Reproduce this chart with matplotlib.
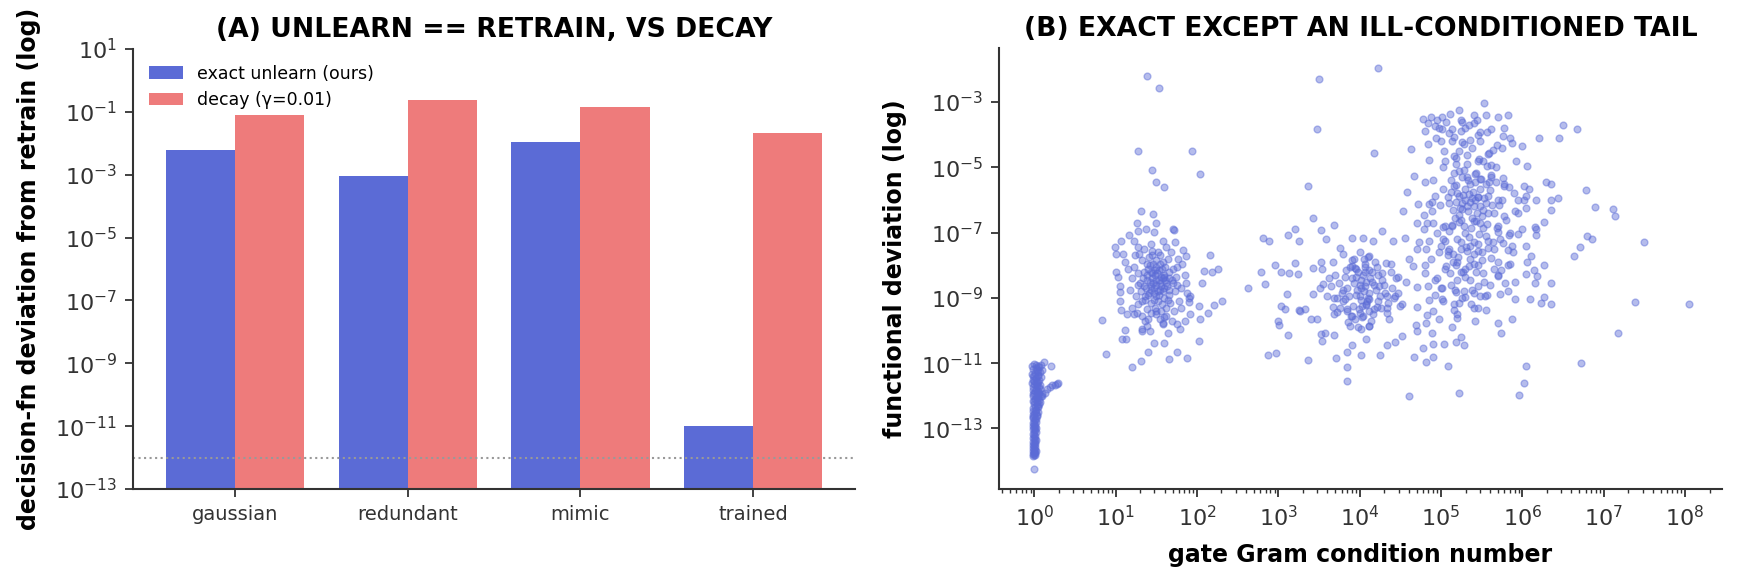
import numpy as np
import matplotlib
matplotlib.use("Agg")
import matplotlib.pyplot as plt

# panel A: bar values
categories = ["gaussian", "redundant", "mimic", "trained"]
exact_dev = [6.1e-3, 9.1e-4, 1.1e-2, 1.0e-11]
decay_dev = [7.9e-2, 2.4e-1, 1.4e-1, 2.1e-2]
precision_floor = 1e-12

# panel B: (log10 condition number, log10 functional deviation)
column_pts = [
    (0.00, -11.02), (0.02, -11.05), (0.04, -11.10), (-0.01, -11.18), (0.03, -11.22), (0.01, -11.30),
    (0.05, -11.35), (-0.02, -11.38), (0.02, -11.45), (0.06, -11.50), (0.00, -11.55), (0.03, -11.62),
    (0.07, -11.68), (-0.01, -11.72), (0.02, -11.78), (0.05, -11.85), (0.00, -11.90), (0.04, -11.95),
    (0.08, -12.00), (-0.02, -12.02), (0.01, -12.10), (0.06, -12.12), (0.03, -12.20), (0.00, -12.26),
    (0.05, -12.30), (-0.01, -12.38), (0.02, -12.42), (0.04, -12.50), (0.00, -12.55), (0.03, -12.62),
    (-0.02, -12.68), (0.01, -12.72), (0.02, -12.80), (0.00, -12.85), (-0.01, -12.92), (0.02, -12.98),
    (0.01, -13.05), (0.00, -13.10), (-0.02, -13.18), (0.01, -13.22), (0.00, -13.30), (0.02, -13.35),
    (-0.01, -13.42), (0.01, -13.48), (0.00, -13.55), (-0.02, -13.60), (0.01, -13.66), (0.00, -13.72),
    (-0.01, -13.78), (0.01, -13.82), (-0.02, -13.85), (0.00, -14.24), (0.00, -11.65), (0.01, -11.85),
    (0.00, -12.15), (0.01, -12.45), (-0.01, -12.60), (0.00, -13.00), (0.01, -13.40), (0.00, -13.75),
    (0.04, -12.35), (0.07, -12.18), (0.10, -12.02), (0.13, -11.90), (0.16, -11.80), (0.19, -11.73),
    (0.22, -11.68), (0.25, -11.66), (0.28, -11.65), (0.29, -11.62), (0.12, -10.97), (0.21, -11.10),
    (0.06, -12.25), (0.09, -11.95),
    (0.08, -11.05), (0.06, -11.12), (-0.03, -11.08), (0.09, -11.20), (0.07, -11.28), (-0.03, -11.32),
    (0.04, -11.40), (0.08, -11.42), (-0.02, -11.50), (0.05, -11.58), (0.02, -11.62), (-0.03, -11.62),
    (0.06, -11.72), (0.03, -11.70), (-0.02, -11.82), (0.03, -11.88), (0.06, -11.92), (-0.02, -11.95),
    (0.02, -12.05), (0.04, -12.08), (-0.02, -12.15), (0.03, -12.28), (0.01, -12.33), (-0.02, -12.45),
    (0.02, -12.52), (0.03, -12.58), (-0.01, -12.65), (0.02, -12.70), (0.00, -12.78), (-0.02, -12.82),
    (0.01, -12.90), (0.01, -12.95), (-0.02, -13.02), (0.02, -13.12), (0.00, -13.20), (-0.01, -13.28),
    (0.01, -13.33), (0.00, -13.45), (-0.02, -13.50), (0.01, -13.58), (0.00, -13.62), (-0.01, -13.70),
    (0.01, -13.76), (0.00, -13.80), (0.02, -13.70), (0.02, -11.15), (0.05, -11.25), (0.00, -11.40),
    (0.07, -11.80), (0.05, -12.02),
]

low_cluster_pts = [
    (1.39, -2.20), (1.53, -2.57), (1.28, -4.50), (1.94, -4.50), (1.45, -5.08), (1.50, -5.46),
    (1.60, -5.60), (2.04, -5.20),
    (1.31, -6.35), (1.46, -6.43), (1.26, -6.71), (1.49, -6.71), (1.28, -6.94), (1.37, -6.89),
    (1.47, -6.99), (1.71, -6.89), (1.72, -6.92), (1.17, -7.07), (1.07, -7.27), (1.23, -7.27),
    (0.99, -7.45), (1.09, -7.66), (1.01, -7.66), (1.28, -7.45), (1.58, -7.25), (1.73, -7.30),
    (1.83, -7.52), (1.86, -7.71), (2.16, -7.69), (2.08, -8.17), (2.19, -8.22), (2.26, -8.11),
    (2.06, -8.54), (2.31, -9.09), (2.21, -9.22), (2.14, -9.46), (2.02, -9.25), (2.04, -9.65),
    (1.92, -9.49), (1.85, -9.72), (1.75, -9.80), (1.79, -9.95), (2.03, -10.33), (1.88, -10.84),
    (1.76, -10.65), (1.65, -10.87), (1.40, -10.65), (1.31, -10.93), (1.20, -11.13), (1.59, -10.39),
    (1.47, -10.39), (1.64, -10.08), (1.13, -10.26), (1.08, -10.26), (1.11, -9.98), (0.88, -10.72),
    (0.83, -9.68), (1.05, -9.09), (1.05, -8.83), (1.01, -8.22), (1.03, -8.37), (1.05, -8.63),
    (1.07, -9.37), (1.14, -9.49), (1.23, -9.49), (1.32, -9.95), (1.32, -10.00), (1.42, -10.00),
    (1.36, -9.70), (1.58, -9.77), (1.62, -9.56), (1.92, -8.93), (1.90, -9.13),
    (1.50, -8.60), (1.45, -8.40), (1.55, -8.75), (1.40, -8.90), (1.60, -8.30), (1.35, -8.20),
    (1.65, -8.90), (1.52, -9.10), (1.42, -8.00), (1.58, -7.90), (1.30, -8.55), (1.70, -8.55),
    (1.48, -8.15), (1.62, -9.30), (1.38, -9.35), (1.55, -7.70), (1.33, -7.85), (1.75, -8.05),
    (1.68, -7.60), (1.45, -7.55), (1.25, -8.95), (1.28, -9.20), (1.80, -8.70), (1.78, -9.10),
    (1.50, -9.50), (1.60, -9.60), (1.40, -9.65), (1.20, -8.40), (1.22, -8.05), (1.85, -8.30),
    (1.47, -8.85), (1.53, -8.45), (1.43, -8.65), (1.57, -8.10), (1.37, -8.70), (1.63, -8.65),
    (1.51, -8.25), (1.49, -8.95), (1.44, -9.15), (1.59, -9.00), (1.34, -8.40), (1.66, -8.20),
    (1.41, -7.75), (1.56, -9.40), (1.29, -7.65), (1.72, -9.40), (1.18, -8.75), (1.82, -7.95),
    (1.46, -7.95), (1.64, -7.80), (1.39, -8.30), (1.61, -8.45), (1.54, -8.55), (1.36, -9.05),
    (1.67, -9.15), (1.27, -8.25), (1.74, -8.35), (1.48, -9.30), (1.58, -8.80), (1.42, -8.50),
    (1.24, -7.70), (1.88, -8.85), (1.15, -8.10), (1.90, -9.00), (1.32, -9.55), (1.69, -9.70),
    (1.52, -7.60), (1.44, -7.35), (1.62, -7.45), (1.35, -7.50), (1.12, -7.90), (1.20, -9.30),
    (1.77, -7.80), (1.86, -8.55), (1.50, -8.05), (1.56, -8.35), (1.40, -8.10), (1.47, -8.70),
    (1.53, -8.90), (1.43, -9.45), (1.65, -8.40), (1.31, -8.80), (1.73, -8.80), (1.26, -9.45),
    (1.58, -9.80), (1.38, -9.85), (1.80, -9.30), (1.49, -7.85), (1.60, -8.70), (1.45, -8.25),
    (1.50, -8.45), (1.44, -8.75), (1.56, -8.65), (1.38, -8.45), (1.62, -8.55), (1.47, -9.05),
    (1.53, -8.15), (1.41, -8.85), (1.59, -8.35), (1.35, -8.65), (1.66, -8.75), (1.52, -8.80),
    (1.46, -8.55), (1.57, -9.20), (1.43, -8.20), (1.61, -8.05), (1.33, -9.10), (1.69, -8.45),
    (1.49, -9.40), (1.55, -7.95), (1.39, -7.95), (1.64, -9.05), (1.27, -8.60), (1.76, -8.60),
    (1.54, -9.65), (1.36, -8.95), (1.70, -8.10), (1.45, -7.70), (1.58, -8.40), (1.48, -8.30),
]

mid_cluster_pts = [
    (4.22, -1.96), (3.50, -2.30), (3.48, -3.83), (4.17, -4.56), (3.37, -5.57), (3.43, -6.55),
    (3.68, -6.77), (3.20, -6.89),
    (2.63, -8.71), (2.81, -7.17), (2.89, -7.25), (3.12, -7.07), (3.26, -7.25), (3.52, -6.93),
    (3.59, -7.20), (3.90, -7.18), (4.04, -7.17), (4.16, -7.25), (4.27, -6.96), (4.41, -7.25),
    (4.56, -7.17), (4.71, -7.50), (4.73, -7.30), (2.79, -8.22), (2.84, -8.57), (2.96, -7.99),
    (3.03, -8.22), (3.13, -8.23), (3.21, -7.94), (3.24, -8.27), (3.11, -8.89), (3.03, -9.26),
    (3.08, -9.34), (3.00, -9.70), (3.01, -9.83), (3.12, -10.14), (2.87, -10.75), (2.97, -10.70),
    (3.36, -10.90), (3.27, -9.41), (3.33, -9.34), (3.40, -9.65), (3.47, -9.65), (3.52, -10.11),
    (3.54, -10.31), (3.57, -10.08), (3.68, -10.14), (3.71, -10.85), (3.85, -10.67), (3.85, -11.13),
    (3.85, -11.54), (3.90, -10.43), (4.01, -10.75), (4.08, -10.26), (4.25, -10.75), (4.33, -10.44),
    (4.44, -10.34), (4.52, -10.18), (4.60, -12.00), (4.67, -10.82), (4.78, -10.53), (4.81, -10.97),
    (4.90, -10.82), (4.90, -10.41), (5.04, -10.41), (5.09, -11.08), (5.19, -10.34), (5.14, -9.90),
    (4.82, -9.78), (4.69, -9.83), (4.71, -10.01), (4.97, -9.65), (4.89, -10.09), (5.16, -9.36),
    (5.20, -9.62), (3.26, -9.36), (3.43, -8.88), (3.51, -8.71), (3.55, -8.57), (3.54, -8.11),
    (3.42, -8.09), (3.52, -7.89), (3.67, -7.89), (3.68, -9.00), (3.67, -9.29), (3.72, -9.44),
    (3.90, -8.01), (3.94, -8.09), (4.06, -8.20), (3.76, -7.48), (3.79, -7.66), (3.93, -7.81),
    (4.00, -7.58), (4.12, -7.71), (4.27, -8.25), (4.32, -7.94), (4.39, -7.96), (4.47, -8.37),
    (4.57, -8.52), (4.61, -7.81), (4.65, -8.01), (4.71, -8.68), (4.80, -8.25), (4.84, -8.63),
    (4.92, -8.45), (5.01, -8.71), (5.06, -8.01), (5.09, -7.55), (5.02, -7.20), (5.17, -8.75),
    (5.01, -9.02), (4.85, -9.07), (4.83, -9.52), (4.33, -9.31), (4.21, -9.29), (4.12, -9.02),
    (4.08, -9.23), (4.04, -9.54), (4.02, -9.95), (4.12, -9.85), (3.90, -9.54), (3.88, -9.85),
    (3.84, -9.34), (3.80, -8.76), (3.82, -9.02), (4.34, -8.95), (4.44, -8.93), (4.52, -9.19),
    (4.71, -9.29),
    (4.05, -8.80), (4.00, -8.60), (4.10, -9.00), (3.95, -8.90), (4.15, -8.50), (3.90, -8.40),
    (4.20, -8.75), (4.08, -9.20), (3.98, -8.20), (4.12, -8.15), (3.85, -8.70), (4.25, -8.95),
    (4.02, -8.45), (4.18, -9.35), (3.92, -9.25), (4.06, -7.95), (3.88, -8.05), (4.30, -8.60),
    (4.22, -8.30), (4.00, -9.45), (3.80, -9.10), (3.82, -8.35), (4.35, -9.15), (4.40, -8.70),
    (4.03, -9.60), (4.14, -9.70), (3.94, -9.65), (3.75, -8.55), (3.78, -8.85), (4.45, -8.40),
    (4.07, -8.65), (3.97, -8.75), (4.11, -8.85), (4.01, -9.05), (3.93, -8.55), (4.17, -8.60),
    (4.04, -8.30), (4.09, -9.10), (3.99, -9.35), (4.13, -8.40), (3.87, -8.95), (4.23, -9.10),
    (3.96, -8.10), (4.16, -9.50), (3.84, -9.40), (4.27, -8.45), (3.72, -9.00), (4.38, -8.20),
    (4.06, -8.05), (4.19, -7.90), (3.91, -7.85), (4.10, -7.75), (4.26, -9.30), (3.86, -9.75),
    (4.33, -9.45), (3.70, -8.30), (4.42, -9.00), (4.00, -8.95), (4.08, -8.50), (3.95, -8.35),
    (4.21, -8.05), (3.89, -9.55), (4.31, -8.85), (4.03, -9.25), (3.76, -9.30), (4.47, -8.85),
    (3.65, -8.65), (4.12, -9.85), (3.98, -9.90), (4.36, -9.65), (3.60, -8.95), (3.62, -8.40),
    (4.50, -9.25), (3.68, -9.50), (4.05, -7.80), (4.15, -8.20), (4.24, -8.65), (3.83, -8.15),
    (4.02, -8.70), (4.11, -9.40),
]

high_cluster_pts = [
    (4.78, -3.52), (5.01, -3.47), (5.11, -3.37), (5.22, -3.25), (5.26, -3.62), (4.80, -3.88),
    (4.93, -3.73), (5.01, -3.83), (5.14, -3.83), (5.16, -4.08), (4.84, -4.29), (4.63, -4.44),
    (4.85, -4.78), (5.05, -4.80), (5.18, -4.90), (5.16, -4.64), (4.67, -5.26), (5.16, -5.16),
    (5.26, -5.31), (4.80, -5.44), (4.90, -5.40), (5.02, -5.67), (5.16, -5.56), (4.58, -5.77),
    (4.72, -6.12), (4.85, -6.11), (4.93, -5.87), (5.10, -6.08), (5.22, -5.87), (5.26, -6.28),
    (4.53, -6.35), (4.89, -6.35), (4.71, -6.72), (4.83, -6.72), (5.02, -6.83), (5.14, -6.78),
    (4.79, -6.89),
    (5.53, -3.04), (5.41, -3.40), (5.55, -3.39), (5.70, -3.47), (5.82, -3.40), (5.40, -3.64),
    (5.30, -3.81), (5.48, -3.93), (5.56, -3.92), (5.61, -3.83), (5.77, -3.80), (5.76, -4.03),
    (5.85, -4.11), (5.87, -4.26), (5.69, -4.31), (5.99, -4.36), (6.20, -4.11), (6.45, -4.11),
    (6.50, -3.71), (6.67, -3.83), (6.06, -4.97), (5.26, -4.23), (5.64, -4.46), (5.59, -4.57),
    (5.32, -4.61), (5.47, -4.75), (5.46, -4.82), (5.56, -4.97), (5.61, -4.92), (5.62, -5.23),
    (5.28, -5.08), (5.43, -5.17), (5.76, -5.33), (5.67, -5.46), (5.33, -5.39), (5.48, -5.35),
    (5.55, -5.51), (5.78, -5.56), (5.84, -5.61), (6.02, -5.58), (6.08, -5.67), (6.29, -5.44),
    (6.35, -5.51), (6.78, -5.70), (5.34, -5.82), (5.46, -5.92), (5.58, -5.87), (5.70, -5.99),
    (5.71, -6.14), (5.95, -5.99), (6.02, -6.01), (6.05, -5.87), (6.17, -5.99), (6.35, -6.01),
    (6.44, -5.94), (6.05, -6.25), (5.91, -6.34), (5.78, -6.48), (5.58, -6.41), (6.35, -6.31),
    (6.89, -6.21), (7.12, -6.29), (7.14, -6.48), (6.27, -6.68), (5.40, -6.63), (5.22, -6.68),
    (5.48, -6.72), (5.69, -6.85), (6.16, -6.83),
    (6.17, -6.89), (6.17, -7.07), (6.79, -7.09), (6.85, -7.20), (6.71, -7.45), (6.64, -7.73),
    (7.49, -7.30), (6.04, -7.42), (6.10, -7.73), (6.06, -7.91), (6.26, -7.99), (6.14, -8.15),
    (6.04, -8.27), (6.18, -8.34), (6.16, -8.55), (6.35, -8.55), (5.91, -8.52), (5.79, -8.55),
    (6.27, -8.98), (6.23, -9.17), (6.35, -9.18), (6.09, -9.02), (5.91, -9.02), (5.82, -8.79),
    (5.72, -8.89), (5.87, -9.65), (5.70, -9.78), (5.74, -10.09), (5.22, -11.90), (5.28, -10.44),
    (5.25, -10.21), (5.42, -9.71), (5.55, -9.36), (5.46, -9.32), (5.37, -9.19), (5.22, -9.16),
    (5.48, -8.95), (5.54, -8.93), (5.30, -8.97), (5.32, -7.55), (5.58, -7.47), (5.76, -7.32),
    (5.82, -7.52), (5.87, -7.40), (5.94, -7.04), (5.83, -7.08), (5.70, -6.99), (5.64, -7.30),
    (5.61, -7.79), (5.70, -7.91), (5.85, -7.96), (5.65, -8.11), (5.74, -8.16), (5.70, -8.34),
    (5.53, -8.52), (5.38, -8.76), (5.40, -8.84), (5.20, -7.91), (5.34, -8.01), (5.27, -8.22),
    (5.43, -8.22), (5.18, -8.83),
    (5.30, -6.00), (5.40, -6.20), (5.20, -5.80), (5.50, -6.50), (5.35, -5.50), (5.25, -6.60),
    (5.45, -5.90), (5.55, -6.10), (5.15, -6.30), (5.60, -5.70), (5.30, -7.00), (5.40, -7.30),
    (5.20, -7.20), (5.50, -7.60), (5.35, -7.80), (5.10, -7.50), (5.45, -8.00), (5.25, -8.20),
    (5.15, -7.90), (5.55, -7.10), (5.05, -6.80), (4.95, -7.00), (5.00, -7.40), (4.90, -6.70),
    (5.10, -6.95), (4.85, -7.25), (5.05, -8.10), (4.95, -8.40), (5.12, -8.60), (5.28, -8.80),
    (5.65, -6.40), (5.70, -6.80), (5.75, -6.00), (5.80, -6.60), (5.65, -7.50), (5.72, -7.20),
    (5.85, -7.00), (5.62, -5.30), (5.68, -5.00), (5.52, -4.80), (5.42, -5.20), (5.32, -4.90),
    (5.22, -5.10), (5.12, -5.40), (5.02, -5.00), (5.38, -4.40), (5.48, -4.20), (5.58, -4.60),
    (5.28, -4.30), (5.18, -4.70), (5.33, -6.35), (5.43, -6.65), (5.23, -6.25), (5.53, -5.95),
    (5.37, -6.85), (5.27, -5.85), (5.47, -7.05), (5.57, -6.75), (5.17, -6.55), (5.63, -6.15),
    (5.31, -7.45), (5.41, -7.65), (5.21, -7.75), (5.51, -8.25), (5.36, -8.45), (5.11, -8.25),
    (5.46, -8.65), (5.26, -9.00), (5.16, -9.20), (5.56, -8.90), (4.88, -7.80), (4.80, -8.00),
    (4.92, -8.90), (5.02, -9.10), (5.08, -7.70), (4.98, -7.60), (5.00, -8.70), (4.90, -9.40),
    (5.20, -9.50), (5.40, -9.30), (5.78, -5.50), (5.90, -5.80), (5.95, -6.40), (6.00, -6.90),
    (5.88, -7.60), (5.82, -8.00), (5.70, -8.30), (5.60, -8.60), (5.92, -4.80), (5.75, -4.40),
    (5.34, -3.70), (5.44, -3.55), (5.24, -3.90), (5.14, -4.20), (5.04, -4.50), (4.94, -4.10),
    (4.84, -3.65), (4.88, -3.45), (4.98, -3.80), (5.06, -3.60), (5.29, -5.65), (5.39, -5.75),
    (5.49, -5.35), (5.59, -5.45), (5.19, -5.55), (5.09, -5.90), (4.99, -6.15), (4.89, -6.05),
    (4.79, -6.45), (4.82, -7.50), (5.36, -6.05), (5.44, -6.40), (5.26, -6.10), (5.34, -7.15),
    (5.24, -7.50), (5.46, -7.35), (5.18, -8.00), (5.30, -8.35), (5.52, -6.30), (5.14, -6.80),
    (5.32, -6.20), (5.42, -6.00), (5.22, -6.45), (5.38, -6.55), (5.48, -6.20), (5.28, -6.80),
    (5.18, -6.05), (5.52, -6.85), (5.35, -7.40), (5.45, -7.55), (5.25, -7.30), (5.15, -7.65),
    (5.40, -7.95), (5.30, -8.10), (5.20, -8.45), (5.50, -7.85), (5.05, -7.25), (5.58, -7.25),
    (5.32, -5.30), (5.42, -5.45), (5.12, -5.75), (5.48, -5.65), (5.22, -4.50), (5.35, -4.15),
    (5.10, -3.95), (5.45, -4.00), (5.00, -4.20), (5.25, -3.55), (4.95, -3.55), (5.38, -5.95),
]

tail_pts = [
    (7.38, -9.14), (8.05, -9.20), (7.17, -10.09), (6.72, -10.98), (6.05, -11.10), (6.02, -11.62),
    (5.96, -11.98),
]

BLUE = "#5b6bd6"
RED = "#ee7b7b"
INK = "#333333"

fig = plt.figure(figsize=(17.38, 5.82), dpi=100)

# ---- (A) bars
ax1 = fig.add_axes([0.0765, 0.1598, 0.4155, 0.756])
ax1.set_yscale("log")
x = np.arange(len(categories))
w = 0.4
ax1.bar(x - w / 2, exact_dev, w, color=BLUE, label="exact unlearn (ours)")
ax1.bar(x + w / 2, decay_dev, w, color=RED, label="decay (γ=0.01)")
ax1.axhline(precision_floor, color="#999999", ls=":", lw=1.5)
ax1.set_ylim(1e-13, 1e1)
ax1.set_yticks([10.0 ** k for k in range(1, -14, -2)])
ax1.set_xticks(x)
ax1.set_xticklabels(categories, fontsize=14, color="#444444")
ax1.set_ylabel("decision-fn deviation from retrain (log)", fontsize=17, fontweight="bold", labelpad=10)
ax1.set_title("(A) UNLEARN == RETRAIN, VS DECAY", fontsize=19.2, fontweight="bold", pad=9)
ax1.legend(loc="upper left", frameon=False, fontsize=12.5, handlelength=2.0)

# ---- (B) scatter
ax2 = fig.add_axes([0.5748, 0.1598, 0.416, 0.7577])
all_pts = column_pts + low_cluster_pts + mid_cluster_pts + high_cluster_pts + tail_pts
lx, ly = zip(*all_pts)
ax2.scatter(10.0 ** np.array(lx), 10.0 ** np.array(ly), s=24, color=BLUE, alpha=0.45, linewidths=1)
ax2.set_xscale("log")
ax2.set_yscale("log")
ax2.set_xticks([10.0 ** k for k in range(0, 9)])
ax2.set_yticks([10.0 ** k for k in range(-3, -14, -2)])
ax2.set_xlabel("gate Gram condition number", fontsize=17, fontweight="bold", labelpad=9)
ax2.set_ylabel("functional deviation (log)", fontsize=17, fontweight="bold", labelpad=10)
ax2.set_title("(B) EXACT EXCEPT AN ILL-CONDITIONED TAIL", fontsize=19.2, fontweight="bold", pad=9)

for ax in (ax1, ax2):
    for side in ("top", "right"):
        ax.spines[side].set_visible(False)
    for side in ("left", "bottom"):
        ax.spines[side].set_color(INK)
        ax.spines[side].set_linewidth(1.5)
    ax.tick_params(which="major", length=5.5, width=1.3, pad=6, color=INK, labelcolor=INK)
    ax.tick_params(axis="y", labelsize=16)
    ax.tick_params(which="minor", length=3, width=1.0, color=INK)
ax2.tick_params(axis="x", labelsize=16)

fig.savefig("out.png", dpi=100)
